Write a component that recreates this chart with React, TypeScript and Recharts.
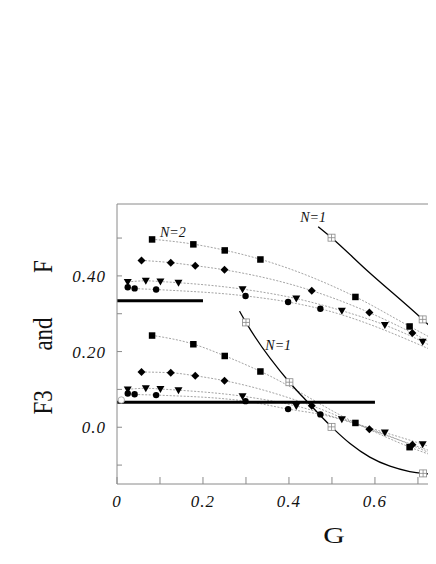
import React from "react";
import {
  ComposedChart,
  Line,
  Scatter,
  XAxis,
  YAxis,
  ReferenceDot,
} from "recharts";

// ---- data (G on x, F on y) ----
const upSqG = [0.081, 0.177, 0.25, 0.333, 0.554, 0.68];
const upSqF = [0.497, 0.484, 0.468, 0.444, 0.345, 0.267];
const upDiG = [0.057, 0.125, 0.182, 0.25, 0.453, 0.587, 0.687];
const upDiF = [0.441, 0.435, 0.427, 0.416, 0.361, 0.303, 0.249];
const upTrG = [0.025, 0.067, 0.101, 0.143, 0.292, 0.417, 0.523, 0.623, 0.711];
const upTrF = [0.384, 0.387, 0.385, 0.382, 0.365, 0.34, 0.308, 0.27, 0.226];
const upCiG = [0.025, 0.041, 0.091, 0.299, 0.398, 0.473];
const upCiF = [0.37, 0.367, 0.364, 0.347, 0.331, 0.313];

const loSqG = [0.081, 0.177, 0.25, 0.333, 0.554, 0.68];
const loSqF = [0.243, 0.22, 0.189, 0.148, 0.012, -0.052];
const loDiG = [0.057, 0.125, 0.182, 0.25, 0.453, 0.587, 0.687];
const loDiF = [0.146, 0.144, 0.136, 0.123, 0.057, -0.005, -0.046];
const loTrG = [0.025, 0.067, 0.101, 0.143, 0.292, 0.417, 0.523, 0.623, 0.711];
const loTrF = [0.1, 0.103, 0.101, 0.098, 0.082, 0.056, 0.021, -0.014, -0.045];
const loCiG = [0.025, 0.041, 0.091, 0.299, 0.398, 0.473];
const loCiF = [0.089, 0.087, 0.085, 0.069, 0.048, 0.034];

// where the dotted fits leave the frame (G = 0.742)
const edgeG = 0.742;
const upTails = [0.229, 0.216, 0.208, 0.199];
const loTails = [-0.078, -0.068, -0.057, -0.075];

// N=1 curves
const n1UpG = [0.468, 0.499, 0.581, 0.711, 0.742];
const n1UpF = [0.53, 0.501, 0.415, 0.285, 0.252];
const n1UpMarkG = [0.499, 0.711];
const n1UpMarkF = [0.501, 0.285];
const n1LoG = [0.285, 0.3, 0.401, 0.443, 0.499, 0.542, 0.588, 0.635, 0.681, 0.712, 0.742];
const n1LoF = [0.307, 0.277, 0.119, 0.067, 0.001, -0.043, -0.079, -0.103, -0.117, -0.122, -0.124];
const n1LoMarkG = [0.3, 0.401, 0.499, 0.712];
const n1LoMarkF = [0.277, 0.119, 0.001, -0.122];

// thick horizontal levels
const levelUpG = [0, 0.2];
const levelUpF = [0.334, 0.334];
const levelLoG = [0, 0.6];
const levelLoF = [0.066, 0.066];

const openCircleG = [0.01];
const openCircleF = [0.072];

const xTicks = [0, 0.1, 0.2, 0.3, 0.4, 0.5, 0.6, 0.7];
const xTickLabels: Record<string, string> = { "0.0": "0", "0.2": "0.2", "0.4": "0.4", "0.6": "0.6" };
const yTicks = [-0.1, 0, 0.1, 0.2, 0.3, 0.4, 0.5];
const yTickLabels: Record<string, string> = { "0.0": "0.0", "0.2": "0.20", "0.4": "0.40" };

const notes = [
  { text: "N=2", g: 0.13, f: 0.516 },
  { text: "N=1", g: 0.456, f: 0.556 },
  { text: "N=1", g: 0.375, f: 0.217 },
];

const pts = (g: number[], f: number[]) => g.map((v, i) => ({ g: v, f: f[i] }));
const withTail = (g: number[], f: number[], tail: number) => [...pts(g, f), { g: edgeG, f: tail }];

const serif = "'Liberation Serif', 'DejaVu Serif', serif";
const axisGrey = "#8a8a8a";
const dotGrey = "#9a9a9a";

const SquareMark = (p: any) => <rect x={p.cx - 3} y={p.cy - 3} width={6.5} height={6.5} fill="#000" />;
const DiamondMark = (p: any) => (
  <polygon points={`${p.cx},${p.cy - 4} ${p.cx + 4},${p.cy} ${p.cx},${p.cy + 4} ${p.cx - 4},${p.cy}`} fill="#000" />
);
const TriangleMark = (p: any) => (
  <polygon points={`${p.cx - 4},${p.cy - 3} ${p.cx + 4},${p.cy - 3} ${p.cx},${p.cy + 4}`} fill="#000" />
);
const CircleMark = (p: any) => <circle cx={p.cx} cy={p.cy} r={3.2} fill="#000" />;
const OpenCircleMark = (p: any) => <circle cx={p.cx} cy={p.cy} r={3.2} fill="#fff" stroke="#999" strokeWidth={0.8} />;
const CrossSquareMark = (p: any) => (
  <g stroke="#888" strokeWidth={0.8} fill="#fff">
    <rect x={p.cx - 3.5} y={p.cy - 3.5} width={7} height={7} />
    <line x1={p.cx} y1={p.cy - 3.5} x2={p.cx} y2={p.cy + 3.5} />
    <line x1={p.cx - 3.5} y1={p.cy} x2={p.cx + 3.5} y2={p.cy} />
  </g>
);

const XTick = (p: any) => {
  const label = xTickLabels[Number(p.payload.value).toFixed(1)];
  if (!label) return null;
  return (
    <text x={p.x} y={p.y} dy={18} textAnchor="middle" fontFamily={serif} fontStyle="italic" fontSize={17} letterSpacing={1} fill="#111">
      {label}
    </text>
  );
};

const YTick = (p: any) => {
  const label = yTickLabels[Number(p.payload.value).toFixed(1)];
  if (!label) return null;
  return (
    <text x={p.x} y={p.y} dy={6} textAnchor="end" fontFamily={serif} fontStyle="italic" fontSize={17} letterSpacing={1} fill="#111">
      {label}
    </text>
  );
};

const YTitle = () => (
  <g fontFamily={serif} fontSize={27} fill="#111">
    <text transform="translate(43.5,394.5) rotate(-90) scale(0.85,1)" textAnchor="middle">F3</text>
    <text transform="translate(43.5,326) rotate(-90) scale(0.85,1)" textAnchor="middle">and</text>
    <text transform="translate(43.5,258.5) rotate(-90) scale(0.85,1)" textAnchor="middle">F</text>
  </g>
);

const XTitle = () => (
  <text transform="translate(326,535) scale(1.3,1)" textAnchor="middle" fontFamily={serif} fontSize={23} fill="#111">
    G
  </text>
);

const dotted = (key: string, data: { g: number; f: number }[]) => (
  <Line
    key={key}
    data={data}
    dataKey="f"
    type="monotone"
    stroke={dotGrey}
    strokeWidth={0.9}
    strokeDasharray="2 1.5"
    dot={false}
    activeDot={false}
    isAnimationActive={false}
  />
);

const marks = (key: string, data: { g: number; f: number }[], shape: any) => (
  <Scatter key={key} data={data} dataKey="f" shape={shape} isAnimationActive={false} />
);

export default function App() {
  return (
    <ComposedChart width={428} height={548} margin={{ top: 194, right: 0, left: 0, bottom: 12 }}>
      <XAxis
        dataKey="g"
        type="number"
        domain={[0, 0.742]}
        allowDataOverflow
        ticks={xTicks}
        interval={0}
        tickSize={-7}
        tickMargin={12}
        height={60}
        stroke={axisGrey}
        tick={<XTick />}
        label={{ content: () => <XTitle /> }}
      />
      <XAxis
        xAxisId="top"
        dataKey="g"
        type="number"
        orientation="top"
        domain={[0, 0.742]}
        allowDataOverflow
        ticks={xTicks}
        interval={0}
        tickSize={-7}
        height={2}
        stroke={axisGrey}
        tick={false}
      />
      <YAxis
        type="number"
        domain={[-0.15, 0.59]}
        allowDataOverflow
        ticks={yTicks}
        interval={0}
        tickSize={-5}
        tickMargin={16}
        width={109}
        stroke={axisGrey}
        tick={<YTick />}
        label={{ content: () => <YTitle /> }}
      />

      {dotted("uSq", withTail(upSqG, upSqF, upTails[0]))}
      {dotted("uDi", withTail(upDiG, upDiF, upTails[1]))}
      {dotted("uTr", withTail(upTrG, upTrF, upTails[2]))}
      {dotted("uCi", withTail(upCiG, upCiF, upTails[3]))}
      {dotted("lSq", withTail(loSqG, loSqF, loTails[0]))}
      {dotted("lDi", withTail(loDiG, loDiF, loTails[1]))}
      {dotted("lTr", withTail(loTrG, loTrF, loTails[2]))}
      {dotted("lCi", withTail(loCiG, loCiF, loTails[3]))}

      <Line data={pts(n1UpG, n1UpF)} dataKey="f" type="monotone" stroke="#000" strokeWidth={1.3} dot={false} activeDot={false} isAnimationActive={false} />
      <Line data={pts(n1LoG, n1LoF)} dataKey="f" type="monotone" stroke="#000" strokeWidth={1.3} dot={false} activeDot={false} isAnimationActive={false} />
      <Line data={pts(levelUpG, levelUpF)} dataKey="f" type="linear" stroke="#000" strokeWidth={3} dot={false} activeDot={false} isAnimationActive={false} />
      <Line data={pts(levelLoG, levelLoF)} dataKey="f" type="linear" stroke="#000" strokeWidth={3} dot={false} activeDot={false} isAnimationActive={false} />

      {marks("muSq", pts(upSqG, upSqF), SquareMark)}
      {marks("muDi", pts(upDiG, upDiF), DiamondMark)}
      {marks("muTr", pts(upTrG, upTrF), TriangleMark)}
      {marks("muCi", pts(upCiG, upCiF), CircleMark)}
      {marks("mlSq", pts(loSqG, loSqF), SquareMark)}
      {marks("mlDi", pts(loDiG, loDiF), DiamondMark)}
      {marks("mlTr", pts(loTrG, loTrF), TriangleMark)}
      {marks("mlCi", pts(loCiG, loCiF), CircleMark)}
      {marks("mN1u", pts(n1UpMarkG, n1UpMarkF), CrossSquareMark)}
      {marks("mN1l", pts(n1LoMarkG, n1LoMarkF), CrossSquareMark)}
      {marks("mOpen", pts(openCircleG, openCircleF), OpenCircleMark)}

      {notes.map((n, i) => (
        <ReferenceDot
          key={i}
          x={n.g}
          y={n.f}
          r={0}
          shape={(p: any) => (
            <text x={p.cx} y={p.cy} dy={5} textAnchor="middle" fontFamily={serif} fontStyle="italic" fontSize={14} fill="#111">
              {n.text}
            </text>
          )}
        />
      ))}
    </ComposedChart>
  );
}
